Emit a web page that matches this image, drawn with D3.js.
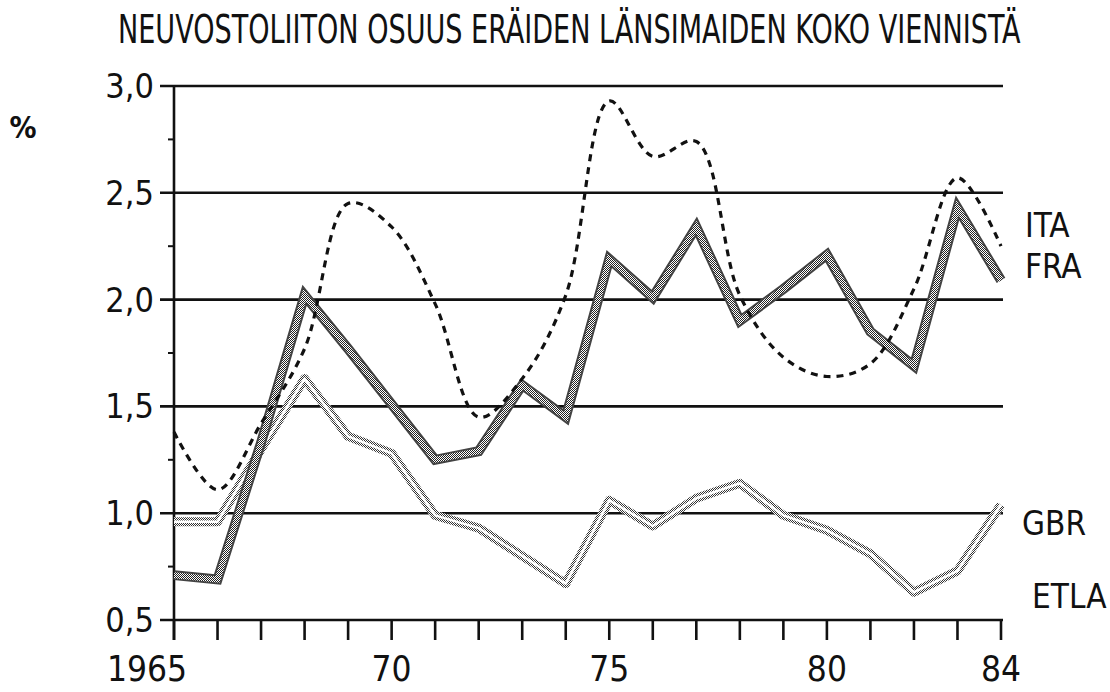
<!DOCTYPE html>
<html>
<head>
<meta charset="utf-8">
<script src="https://cdn.jsdelivr.net/npm/d3@7"></script>
<style>
  html, body { margin: 0; padding: 0; background: #fff; }
  svg { display: block; }
  .lbl { font-family: "DejaVu Sans Condensed", "DejaVu Sans", sans-serif; fill: #111; }
</style>
</head>
<body>
<svg id="chart" width="1110" height="692"></svg>
<script>
// Soviet Union's share of total exports of selected Western countries, 1965–1984 (%)
const years = d3.range(1965, 1985);
const ita = [1.38, 1.11, 1.42, 1.77, 2.45, 2.34, 1.98, 1.45, 1.63, 2.02, 2.93, 2.67, 2.74, 2.02, 1.73, 1.64, 1.70, 2.05, 2.57, 2.25];
const fra = [0.71, 0.69, 1.33, 2.02, 1.77, 1.51, 1.25, 1.29, 1.60, 1.45, 2.19, 2.01, 2.34, 1.90, 2.05, 2.21, 1.85, 1.69, 2.43, 2.09];
const gbr = [0.96, 0.96, 1.30, 1.63, 1.36, 1.28, 0.99, 0.93, 0.80, 0.67, 1.06, 0.94, 1.07, 1.14, 0.99, 0.92, 0.81, 0.63, 0.73, 1.04];

const yTicks = [0.5, 1.0, 1.5, 2.0, 2.5, 3.0];
const yMinorTicks = [0.75, 1.25, 1.75, 2.25, 2.75];
const xLabelYears = [1965, 1970, 1975, 1980, 1984];
const xLabelText = ["1965", "70", "75", "80", "84"];

const titleText = "NEUVOSTOLIITON OSUUS ERÄIDEN LÄNSIMAIDEN KOKO VIENNISTÄ";
const seriesNames = ["ITA", "FRA", "GBR"];
const sourceText = "ETLA";

const svg = d3.select("#chart");

const x = d3.scaleLinear().domain([1965, 1984]).range([174, 1001]);
const y = d3.scaleLinear().domain([0.5, 3.0]).range([620, 86]);

// dither patterns for the hatched series lines
const defs = svg.append("defs");
function checkerPattern(id, ink) {
  const p = defs.append("pattern")
    .attr("id", id).attr("patternUnits", "userSpaceOnUse")
    .attr("width", 2).attr("height", 2);
  p.append("rect").attr("width", 2).attr("height", 2).attr("fill", "#fff");
  p.append("rect").attr("width", 1).attr("height", 1).attr("fill", ink);
  p.append("rect").attr("x", 1).attr("y", 1).attr("width", 1).attr("height", 1).attr("fill", ink);
}
checkerPattern("checker", "#222");
checkerPattern("dots", "#333");

// title: narrow, tall lettering spanning the plot width
const titleG = svg.append("g").attr("transform", "translate(118,43) scale(1,1.3)");
const title = titleG.append("text").attr("class", "lbl")
  .attr("x", 0).attr("y", 0)
  .style("font-family", "'Liberation Sans Narrow', 'DejaVu Sans Condensed', sans-serif")
  .style("font-size", "36px")
  .text(titleText);
const tw = title.node().getComputedTextLength();
title.style("font-size", Math.min(40, 36 * 904 / tw).toFixed(1) + "px");

// unit
svg.append("text").attr("class", "lbl")
  .attr("x", 23).attr("y", 138).attr("text-anchor", "middle")
  .style("font-size", "30px").style("font-weight", "bold")
  .text("%");

// horizontal gridlines with left tick stubs
svg.append("g").selectAll("line").data(yTicks).join("line")
  .attr("x1", 160).attr("x2", x(1984) + 2)
  .attr("y1", d => y(d)).attr("y2", d => y(d))
  .attr("stroke", "#111").attr("stroke-width", 2.6);

// minor ticks on the value axis
svg.append("g").selectAll("line").data(yMinorTicks).join("line")
  .attr("x1", 168).attr("x2", x(1965))
  .attr("y1", d => y(d)).attr("y2", d => y(d))
  .attr("stroke", "#111").attr("stroke-width", 2);

// value axis line
svg.append("line")
  .attr("x1", x(1965)).attr("x2", x(1965))
  .attr("y1", y(3.0)).attr("y2", y(0.5) + 20)
  .attr("stroke", "#111").attr("stroke-width", 2.6);

// year ticks
svg.append("g").selectAll("line").data(years).join("line")
  .attr("x1", d => x(d)).attr("x2", d => x(d))
  .attr("y1", y(0.5)).attr("y2", y(0.5) + 20)
  .attr("stroke", "#111").attr("stroke-width", 2.6);

// value labels
svg.append("g").selectAll("text").data(yTicks).join("text")
  .attr("class", "lbl")
  .attr("x", 154).attr("y", d => y(d) + 12)
  .attr("text-anchor", "end")
  .style("font-size", "34px")
  .text(d => d3.format(".1f")(d).replace(".", ","));

// year labels
svg.append("g").selectAll("text").data(xLabelYears).join("text")
  .attr("class", "lbl")
  .attr("x", (d, i) => i === 0 ? x(d) - 27 : x(d))
  .attr("y", 681)
  .attr("text-anchor", "middle")
  .style("font-size", "35px")
  .text((d, i) => xLabelText[i]);

const straight = d3.line().x((d, i) => x(years[i])).y(d => y(d));
const smooth = d3.line().x((d, i) => x(years[i])).y(d => y(d)).curve(d3.curveCatmullRom.alpha(0.5));

// GBR: dotted double line
svg.append("path").datum(gbr).attr("d", straight)
  .attr("fill", "none").attr("stroke", "url(#dots)").attr("stroke-width", 9)
  .attr("stroke-linejoin", "round");
svg.append("path").datum(gbr).attr("d", straight)
  .attr("fill", "none").attr("stroke", "#fff").attr("stroke-width", 2.5)
  .attr("stroke-linejoin", "round");

// FRA: dark hatched double line
svg.append("path").datum(fra).attr("d", straight)
  .attr("fill", "none").attr("stroke", "#444").attr("stroke-width", 10)
  .attr("stroke-linejoin", "miter");
svg.append("path").datum(fra).attr("d", straight)
  .attr("fill", "none").attr("stroke", "url(#checker)").attr("stroke-width", 6)
  .attr("stroke-linejoin", "miter");

// ITA: dashed smooth line
svg.append("path").datum(ita).attr("d", smooth)
  .attr("fill", "none").attr("stroke", "#111").attr("stroke-width", 3.2)
  .attr("stroke-dasharray", "7,6");

// series labels
const labelPos = [[1025, 237], [1025, 278], [1022, 535]];
svg.append("g").selectAll("text").data(seriesNames).join("text")
  .attr("class", "lbl")
  .attr("x", (d, i) => labelPos[i][0]).attr("y", (d, i) => labelPos[i][1])
  .style("font-size", "33px")
  .text(d => d);

svg.append("text").attr("class", "lbl")
  .attr("x", 1032).attr("y", 608)
  .style("font-size", "33px")
  .text(sourceText);
</script>
</body>
</html>
